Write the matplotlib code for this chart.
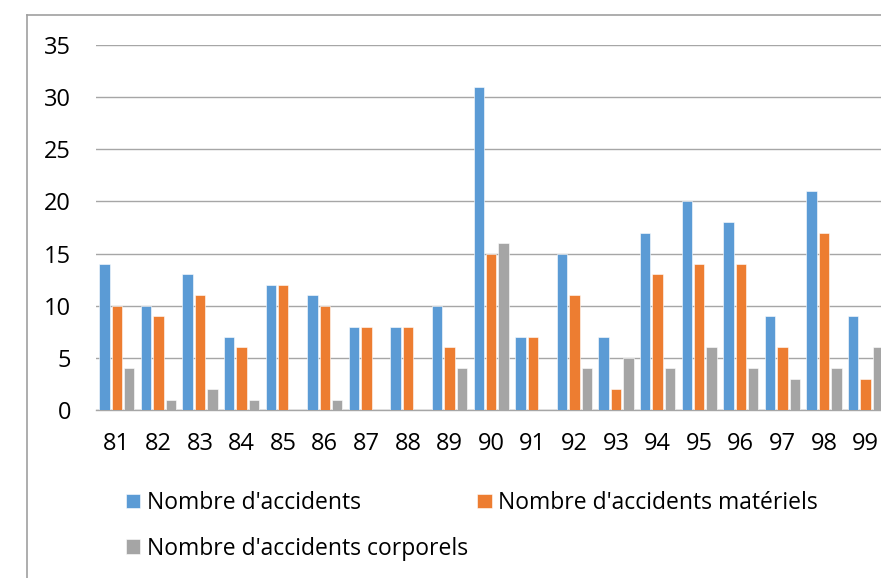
import matplotlib
matplotlib.use("Agg")
import matplotlib.pyplot as plt
import numpy as np
from matplotlib.lines import Line2D

categories = ["81", "82", "83", "84", "85", "86", "87", "88", "89", "90",
              "91", "92", "93", "94", "95", "96", "97", "98", "99"]
accidents = [14, 10, 13, 7, 12, 11, 8, 8, 10, 31, 7, 15, 7, 17, 20, 18, 9, 21, 9]
materiels = [10, 9, 11, 6, 12, 10, 8, 8, 6, 15, 7, 11, 2, 13, 14, 14, 6, 17, 3]
corporels = [4, 1, 2, 1, 0, 1, 0, 0, 4, 16, 0, 4, 5, 4, 6, 4, 3, 4, 6]
series_names = ["Nombre d'accidents", "Nombre d'accidents matériels",
                "Nombre d'accidents corporels"]
colors = ["#5B9BD5", "#ED7D31", "#A5A5A5"]
yticks = [0, 5, 10, 15, 20, 25, 30, 35]

plt.rcParams['font.family'] = ['Open Sans', 'DejaVu Sans']

W, H = 881, 578
fig = plt.figure(figsize=(W / 100, H / 100), dpi=100)

# axes: x from 96px, 19 categories of ~41.6 px; y0 at 410px, y35 at 45px
n = len(categories)
step = 41.6
left = 96 / W
width = n * step / W
bottom = (H - 410) / H
height = (410 - 45) / H
ax = fig.add_axes([left, bottom, width, height])

x = np.arange(n)
bw = 0.25
off = 0.30
bars = []
for i, (vals, c) in enumerate(zip([accidents, materiels, corporels], colors)):
    b = ax.bar(x + (i - 1) * off, vals, width=bw, color=c, zorder=3,
               edgecolor='white', linewidth=0.4)
    bars.append(b)

ax.set_xlim(-0.5, n - 0.5)
ax.set_ylim(0, 35)
ax.set_yticks(yticks)
ax.set_xticks(x)
ax.set_xticklabels(categories)
ax.grid(axis='y', color='#a6a6a6', linewidth=1.0, zorder=0)
for s in ['top', 'right', 'left']:
    ax.spines[s].set_visible(False)
ax.spines['bottom'].set_color('#a6a6a6')
ax.spines['bottom'].set_linewidth(1.0)
ax.tick_params(axis='both', length=0, labelsize=17, colors='black')
ax.tick_params(axis='y', pad=18)
ax.tick_params(axis='x', pad=16)

# chart frame (cropped at right and bottom)
fig.add_artist(Line2D([27 / W, 27 / W], [0, (H - 15) / H], color='#a0a0a0',
                      linewidth=1.2, transform=fig.transFigure))
fig.add_artist(Line2D([27 / W, 1.0], [(H - 15) / H, (H - 15) / H], color='#a0a0a0',
                      linewidth=1.2, transform=fig.transFigure))

handles = [bars[0], bars[2], bars[1]]
labels = [series_names[0], series_names[2], series_names[1]]
leg = fig.legend(handles, labels, ncol=2, loc='upper left',
                 bbox_to_anchor=(126 / W, (H - 491) / H),
                 frameon=False, fontsize=16.5, handlelength=0.62, handleheight=0.62,
                 handletextpad=0.3, columnspacing=0.4, labelspacing=0.95,
                 borderaxespad=0, borderpad=0)

fig.savefig("out.png", dpi=100)
